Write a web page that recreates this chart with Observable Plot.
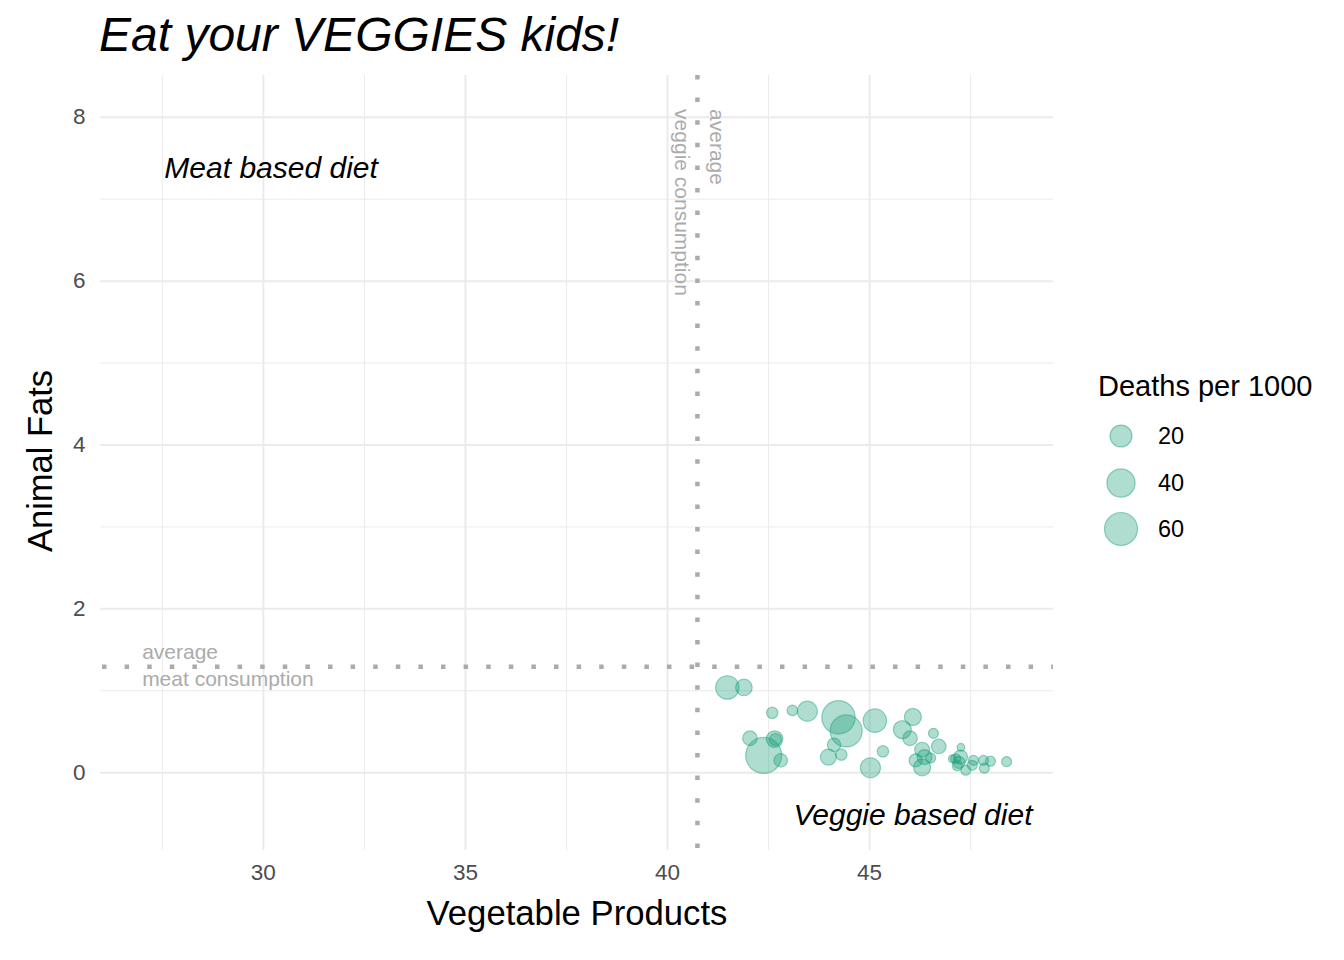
<!DOCTYPE html>
<html><head><meta charset="utf-8">
<script src="https://cdn.jsdelivr.net/npm/d3@7"></script>
<script src="https://cdn.jsdelivr.net/npm/@observablehq/plot@0.6"></script>
<style>
body{margin:0;background:#fff;font-family:"Liberation Sans",Arial,Helvetica,sans-serif;}
#wrap{position:relative;width:1344px;height:960px;overflow:hidden;}
#chart{position:absolute;left:0;top:0;}
#title{position:absolute;left:99px;top:11px;font-size:48px;line-height:48px;font-style:italic;color:#000;white-space:nowrap;}
#legend{position:absolute;left:1080px;top:350px;}
</style></head><body>
<div id="wrap"><div id="chart"></div><div id="title">Eat your VEGGIES kids!</div><div id="legend"></div></div>
<script>
// Data
const vegetableProducts = [41.48,41.89,42.59,43.09,43.46,44.23,44.42,45.13,46.07,45.81,46.00,46.58,46.71,42.04,42.65,42.67,42.38,42.80,44.12,43.98,44.30,45.02,45.33,46.30,46.14,46.36,46.30,46.51,47.26,47.25,47.13,47.17,47.38,47.57,47.54,47.82,47.99,47.84,48.39,47.05,47.21];
const animalFats = [1.04,1.04,0.73,0.76,0.75,0.675,0.51,0.635,0.68,0.525,0.42,0.48,0.32,0.42,0.41,0.405,0.21,0.15,0.34,0.19,0.22,0.06,0.26,0.28,0.15,0.19,0.065,0.18,0.31,0.19,0.17,0.085,0.03,0.15,0.09,0.15,0.14,0.055,0.135,0.17,0.125];
const deathsPer1000 = [24.1,8.4,1.85,1.26,15.3,61.9,55.6,24.1,9.1,11,5.3,0.9,5.3,5.3,8.4,2.4,74.6,3.8,3.8,7.4,1.85,15.3,1.85,5.9,3.4,5.9,9.1,0.9,0.06,4.5,0.9,0.9,0.9,0.9,0.9,0.9,0.9,0.9,0.9,0.13,2.4];
const xTicks = [30,35,40,45];
const xMinor = [27.5,32.5,37.5,42.5,47.5];
const yTicks = [0,2,4,6,8];
const yMinor = [1,3,5,7];
const avgVeggie = [40.74];
const avgMeat = [1.294];
const legendBreaks = [20,40,60];

const rows = vegetableProducts.map((v,i)=>({veg:v, fat:animalFats[i], deaths:deathsPer1000[i]}));
const green = "#1b9e77";
const grey = "#ababab";

const chart = Plot.plot({
  width:1344, height:960,
  marginLeft:100, marginRight:291, marginTop:75, marginBottom:110,
  style:{fontFamily:"'Liberation Sans', Arial, sans-serif", background:"transparent"},
  x:{domain:[25.97,49.55], axis:null},
  y:{domain:[-0.95,8.51], axis:null},
  r:{type:"sqrt", domain:[0,60], range:[3.4,16.5]},
  marks:[
    Plot.ruleX(xMinor,{stroke:"#ebebeb", strokeWidth:1}),
    Plot.ruleY(yMinor,{stroke:"#ebebeb", strokeWidth:1}),
    Plot.ruleX(xTicks,{stroke:"#ebebeb", strokeWidth:2}),
    Plot.ruleY(yTicks,{stroke:"#ebebeb", strokeWidth:2}),
    Plot.ruleX(avgVeggie,{stroke:grey, strokeWidth:4.5, strokeDasharray:"4.5,18.1", strokeDashoffset:0}),
    Plot.ruleY(avgMeat,{stroke:grey, strokeWidth:4.5, strokeDasharray:"4.5,18.1", strokeDashoffset:20.6}),
    Plot.text(xTicks,{x:d=>d, frameAnchor:"bottom", dy:22, text:d=>String(d), fontSize:22.5, fill:"#4d4d4d", lineAnchor:"middle"}),
    Plot.text(yTicks,{y:d=>d, frameAnchor:"left", dx:-15, text:d=>String(d), fontSize:22.5, fill:"#4d4d4d", textAnchor:"end", lineAnchor:"middle"}),
    Plot.text(["Vegetable Products"],{frameAnchor:"bottom", dy:63, fontSize:34.7, fill:"#000", textAnchor:"middle", lineAnchor:"middle"}),
    Plot.text(["Animal Fats"],{frameAnchor:"left", dx:-60, dy:-2, rotate:-90, fontSize:34.5, fill:"#000", textAnchor:"middle", lineAnchor:"middle"}),
    Plot.text(["average"],{x:avgVeggie[0], y:8.1, dx:19, rotate:90, textAnchor:"start", lineAnchor:"middle", fontSize:21, fill:grey}),
    Plot.text(["veggie consumption"],{x:avgVeggie[0], y:8.1, dx:-15.5, rotate:90, textAnchor:"start", lineAnchor:"middle", fontSize:21, fill:grey}),
    Plot.text(["average"],{x:27.0, y:avgMeat[0], dy:-14, textAnchor:"start", lineAnchor:"middle", fontSize:21, fill:grey}),
    Plot.text(["meat consumption"],{x:27.0, y:avgMeat[0], dy:13, textAnchor:"start", lineAnchor:"middle", fontSize:21, fill:grey}),
    Plot.text(["Meat based diet"],{x:27.55, y:7.375, textAnchor:"start", lineAnchor:"middle", fontSize:30, fontStyle:"italic", fill:"#000"}),
    Plot.text(["Veggie based diet"],{x:49.03, y:-0.525, textAnchor:"end", lineAnchor:"middle", fontSize:30, fontStyle:"italic", fill:"#000"}),
    Plot.dot(rows,{x:"veg", y:"fat", r:"deaths", fill:green, fillOpacity:0.35, stroke:green, strokeOpacity:0.45, strokeWidth:1.2})
  ]
});
document.getElementById("chart").appendChild(chart);

// Legend built from the same r scale
const rFn = Plot.scale({r: chart.scale("r")});
const lg = d3.select("#legend").append("svg").attr("width",264).attr("height",220)
  .style("font-family","'Liberation Sans', Arial, sans-serif");
lg.append("text").attr("x",18).attr("y",46).attr("font-size",29).attr("fill","#000").text("Deaths per 1000");
const ys = [86,133,179];
legendBreaks.forEach((b,i)=>{
  lg.append("circle").attr("cx",41).attr("cy",ys[i]).attr("r",rFn.apply(b))
    .attr("fill",green).attr("fill-opacity",0.35).attr("stroke",green).attr("stroke-opacity",0.45).attr("stroke-width",1.2);
  lg.append("text").attr("x",78).attr("y",ys[i]).attr("dy","0.35em").attr("font-size",23.5).attr("fill","#000").text(String(b));
});
</script>
</body></html>
